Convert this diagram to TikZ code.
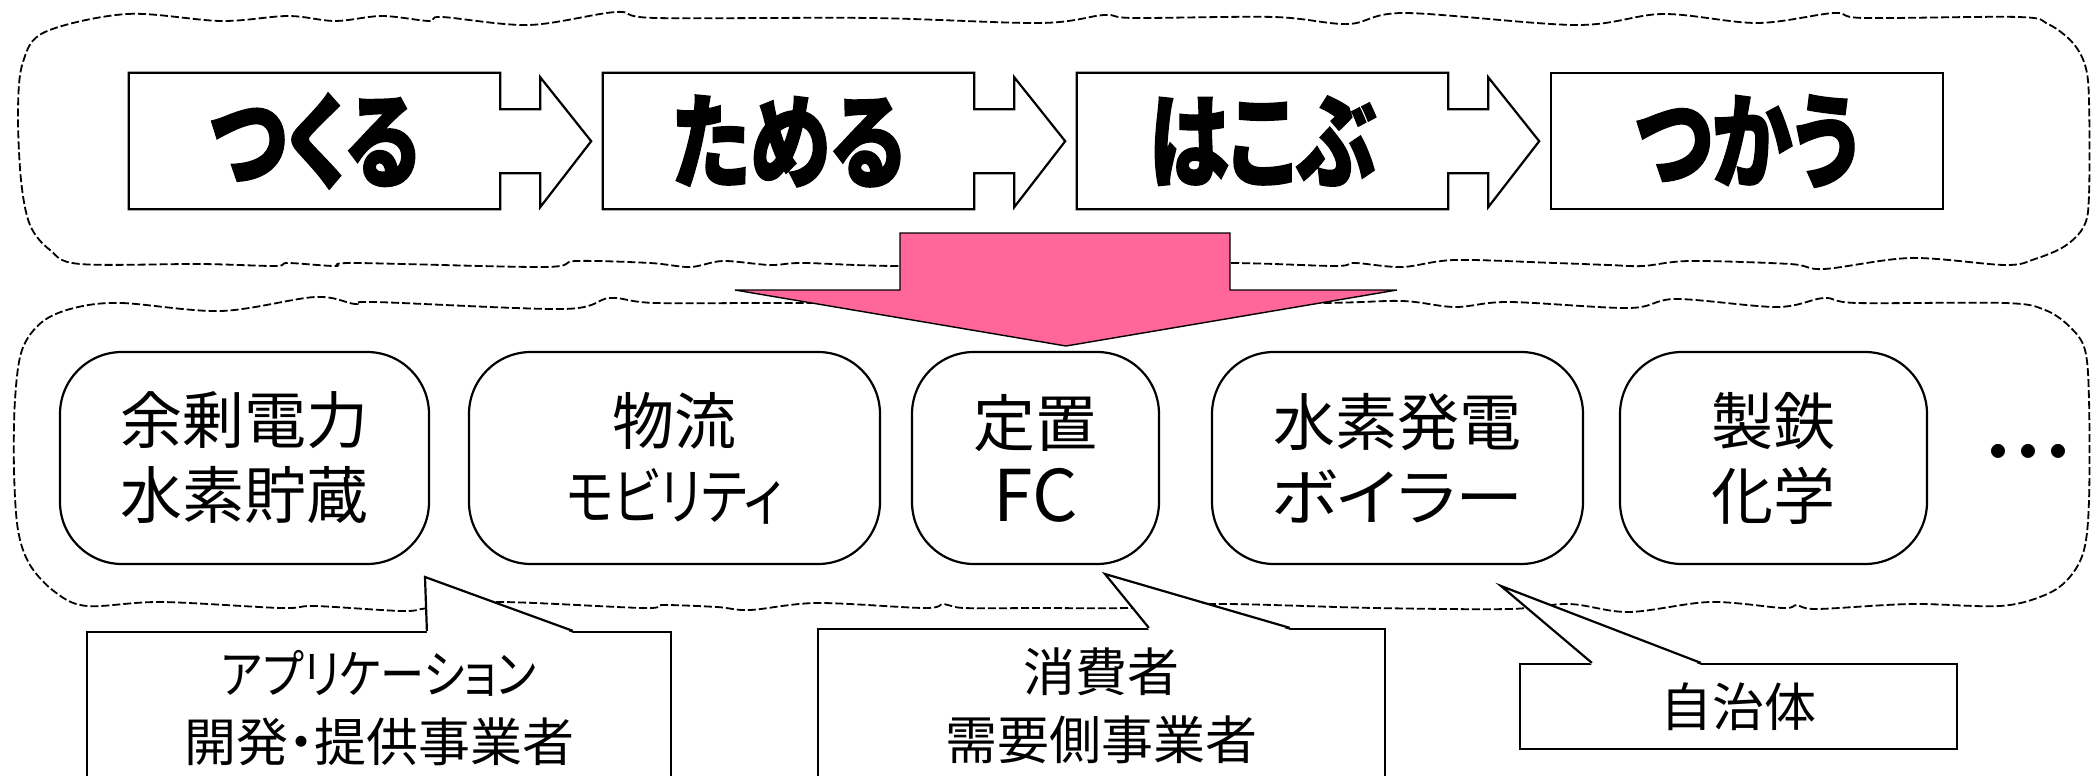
\documentclass[tikz,border=0pt]{standalone}
\usepackage{fontspec}
\newfontfamily\jp[RawFeature={+palt}]{Noto Sans CJK JP}
\newfontfamily\jpheavy[RawFeature={+palt},BoldFeatures={FakeBold=1.5}]{Noto Sans CJK JP}
\newcommand{\steptxt}[1]{\scalebox{0.78}[1]{#1}}
\usetikzlibrary{calc}
\definecolor{pinkarrow}{RGB}{255,102,153}
\begin{document}
\begin{tikzpicture}[x=1pt,y=-1pt,
  cloudline/.style={draw=black, line width=1.8pt, dash pattern=on 8pt off 3pt},
  stepbox/.style={minimum width=371pt, minimum height=136pt, inner sep=0pt,
    font=\jpheavy\bfseries\fontsize{104}{110}\selectfont},
  stepline/.style={draw=black, line width=2.2pt, line join=miter},
  usebox/.style={draw=black, line width=2.2pt, fill=white, rounded corners=62pt,
    minimum height=212pt, inner sep=0pt, align=center,
    font=\jp\fontsize{62}{75}\selectfont},
  calloutbox/.style={draw=black, line width=2.2pt, fill=white, inner sep=0pt,
    align=center, font=\jp\fontsize{52}{68}\selectfont},
  pointerfill/.style={fill=white},
  pointerline/.style={draw=black, line width=2.2pt, line join=miter},
]
\useasboundingbox (0,0) rectangle (2091,776);
\clip (0,0) rectangle (2091,776);

% clouds
\draw[cloudline] plot[smooth cycle, tension=0.55] coordinates {
  (45,32) (127,14) (221,21) (288,16) (335,21) (382,16) (429,21) (442,17)
  (529,25) (616,12) (656,18) (871,18) (1040,23) (1104,15) (1134,18)
  (1274,17) (1348,24) (1405,13) (1576,25) (1663,14) (1757,23) (1834,13)
  (1864,18) (2018,17) (2048,24) (2072,42) (2085,65) (2089,100) (2089,195)
  (2084,226) (2065,246) (2035,259) (2005,265) (1911,258) (1824,269)
  (1790,264) (1690,261) (1643,266) (1609,265) (1555,263) (1455,260)
  (1402,267) (1355,263) (1335,266) (1231,263) (1066,264) (898,266)
  (804,263) (770,265) (723,261) (690,267) (650,263) (576,261) (543,267)
  (355,263) (335,266) (288,263) (275,266) (201,264) (80,264) (50,250)
  (30,225) (21,180) (18,110) (23,62)};
\draw[cloudline] plot[smooth cycle, tension=0.55] coordinates {
  (74,308) (121,303) (221,311) (315,297) (355,304) (375,302) (563,309)
  (610,298) (656,303) (804,303) (1066,305) (1321,303) (1402,301)
  (1455,307) (1509,302) (1629,308) (1676,299) (1777,307) (1824,298)
  (1857,303) (2005,303) (2045,310) (2070,327) (2085,350) (2089,400)
  (2089,500) (2084,550) (2069,578) (2045,595) (2000,606) (1911,604)
  (1817,609) (1797,605) (1783,608) (1710,602) (1629,612) (1569,604)
  (1509,609) (1375,608) (1221,604) (1127,608) (1040,608) (964,608)
  (944,604) (924,608) (817,603) (750,610) (717,607) (663,605) (643,608)
  (499,602) (429,608) (402,611) (315,606) (281,608) (161,602) (87,606)
  (55,592) (30,565) (18,530) (14,470) (15,400) (22,350) (42,322)};

% step boxes
\foreach \i/\t/\cx in {1/つくる/314.5, 2/ためる/788.5, 3/はこぶ/1262.5}{
  \node[stepbox] (s\i) at (\cx,141) {\steptxt{\t}};
  \draw[stepline] (s\i.north east) -- (s\i.north west) -- (s\i.south west)
    -- (s\i.south east) -- ++(0,-36) -- ++(40,0) -- ++(0,34) -- ++(51,-66)
    -- ++(-51,-64) -- ++(0,32) -- ++(-40,0) -- cycle;
}
\node[stepbox, minimum width=392pt, draw=black, line width=2.2pt] (s4) at (1747,141) {\steptxt{つかう}};

% pink arrow
\draw[fill=pinkarrow, draw=black, line width=1.4pt, line join=miter]
  (900,233) -- (1230,233) -- (1230,290) -- (1397,290) -- (1066,346)
  -- (735,290) -- (900,290) -- cycle;

% use boxes
\node[usebox, minimum width=369pt] (uA) at (244.5,458) {余剰電力\\水素貯蔵};
\node[usebox, minimum width=411pt] (uB) at (674.5,458) {物流\\\scalebox{0.81}[1]{モビリティ}};
\node[usebox, minimum width=247pt] (uC) at (1035.5,458) {定置\\\scalebox{1.15}{FC}};
\node[usebox, minimum width=371pt] (uD) at (1397.5,458) {水素発電\\\scalebox{1.1}[1]{ボイラー}};
\node[usebox, minimum width=307pt] (uE) at (1773.5,458) {製鉄\\化学};
\node[font=\jp\fontsize{66}{66}\selectfont, inner sep=0pt] (dots) at (2028,460) {・\kern-3pt・\kern-3pt・};

% callouts
\node[calloutbox, minimum width=584pt, minimum height=152pt] (c1) at (379,708)
  {\scalebox{0.85}[1]{アプリケーション}\\開発・提供事業者};
\coordinate (t1) at (425,577);
\fill[pointerfill] ($(c1.north west)+(341,2)$) -- (t1) -- ($(c1.north west)+(487,2)$) -- cycle;
\draw[pointerline] ($(c1.north west)+(341,0)$) -- (t1) -- ($(c1.north west)+(487,0)$);

\node[calloutbox, minimum width=567pt, minimum height=154pt] (c2) at (1101.5,706)
  {消費者\\需要側事業者};
\coordinate (t2) at (1105,574);
\fill[pointerfill] ($(c2.north west)+(332,2)$) -- (t2) -- ($(c2.north west)+(473,2)$) -- cycle;
\draw[pointerline] ($(c2.north west)+(332,0)$) -- (t2) -- ($(c2.north west)+(473,0)$);

\node[calloutbox, minimum width=437pt, minimum height=85pt] (c3) at (1738.5,706.5)
  {自治体};
\coordinate (t3) at (1501,586);
\fill[pointerfill] ($(c3.north west)+(73,2)$) -- (t3) -- ($(c3.north west)+(182,2)$) -- cycle;
\draw[pointerline] ($(c3.north west)+(73,0)$) -- (t3) -- ($(c3.north west)+(182,0)$);
\end{tikzpicture}
\end{document}
